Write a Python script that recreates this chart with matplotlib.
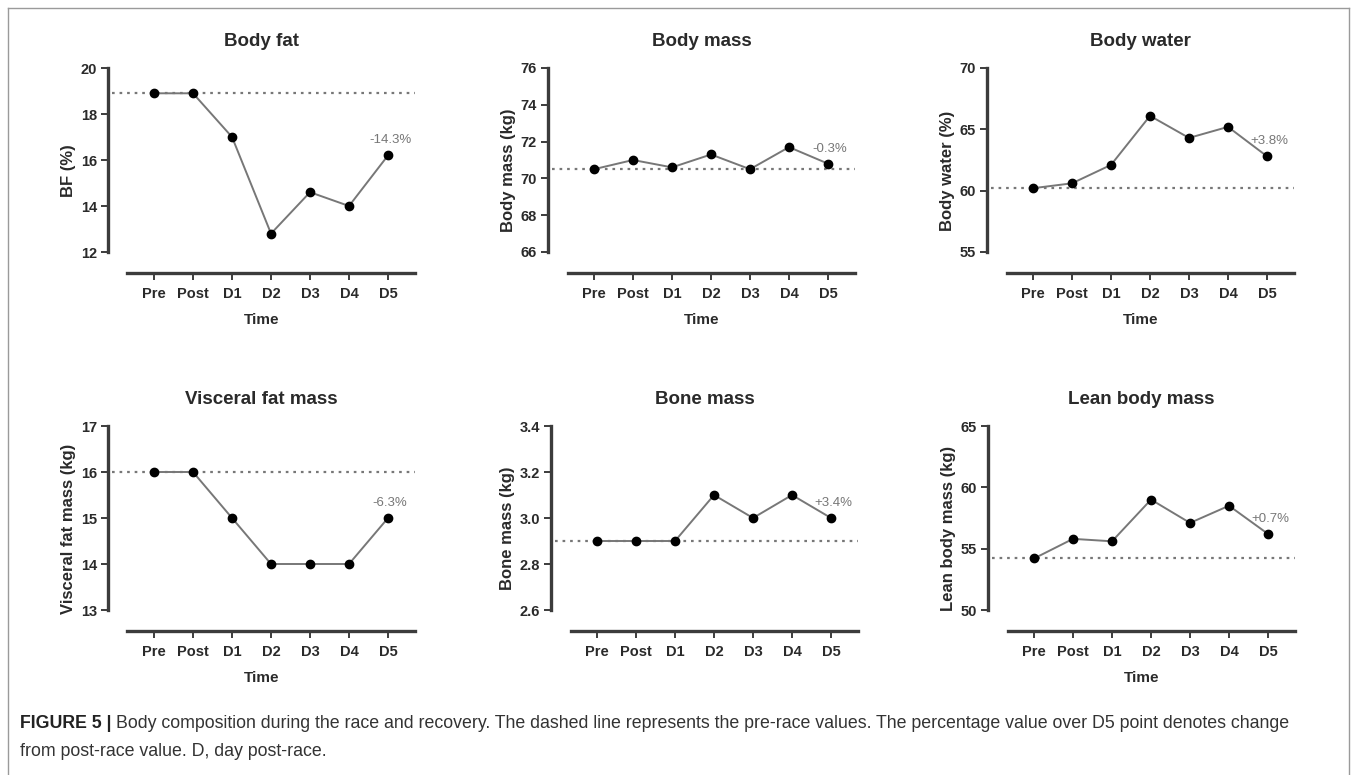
import matplotlib
matplotlib.use('Agg')
import matplotlib.pyplot as plt
from matplotlib import font_manager
from matplotlib.lines import Line2D

plt.rcParams['font.family'] = ['Liberation Sans', 'DejaVu Sans']

time_labels = ['Pre', 'Post', 'D1', 'D2', 'D3', 'D4', 'D5']

body_fat = [18.9, 18.9, 17.0, 12.8, 14.6, 14.0, 16.2]
body_mass = [70.5, 71.0, 70.6, 71.3, 70.5, 71.7, 70.8]
body_water = [60.2, 60.6, 62.1, 66.1, 64.3, 65.2, 62.8]
visceral_fat = [16, 16, 15, 14, 14, 14, 15]
bone_mass = [2.9, 2.9, 2.9, 3.1, 3.0, 3.1, 3.0]
lean_mass = [54.2, 55.8, 55.6, 59.0, 57.1, 58.5, 56.2]

titles = ['Body fat', 'Body mass', 'Body water',
          'Visceral fat mass', 'Bone mass', 'Lean body mass']
ylabels = ['BF (%)', 'Body mass (kg)', 'Body water (%)',
           'Visceral fat mass (kg)', 'Bone mass (kg)', 'Lean body mass (kg)']
yticks = [[12, 14, 16, 18, 20], [66, 68, 70, 72, 74, 76], [55, 60, 65, 70],
          [13, 14, 15, 16, 17], [2.6, 2.8, 3.0, 3.2, 3.4], [50, 55, 60, 65]]
ytick_fmt = ['{:.0f}', '{:.0f}', '{:.0f}', '{:.0f}', '{:.1f}', '{:.0f}']
changes = ['-14.3%', '-0.3%', '+3.8%', '-6.3%', '+3.4%', '+0.7%']
show_time = [True, True, True, True, False, True]
series = [body_fat, body_mass, body_water, visceral_fat, bone_mass, lean_mass]

W, H = 1357, 775
fig = plt.figure(figsize=(W / 100, H / 100), dpi=100)

# pixel layout of each panel: left spine x, top tick y, x-axis y
lefts = [108, 548, 987, 108, 551, 988]
tops = [68, 68, 68, 426, 426, 426]
bottoms = [273, 273, 273, 631, 631, 631]
x0, x1, xs = -1.18, 6.7, -0.68
step = 39.0

spine_c = '#3c3c3c'
text_c = '#2a2a2a'

for i in range(6):
    w = (x1 - x0) * step
    ax = fig.add_axes([lefts[i] / W, 1 - bottoms[i] / H, w / W, (bottoms[i] - tops[i]) / H])
    lo, hi = yticks[i][0], yticks[i][-1]
    tick_span = bottoms[i] - 21 - tops[i]
    ax.set_ylim(lo - 21.0 / tick_span * (hi - lo), hi)
    ax.set_xlim(x0, x1)
    x = list(range(len(time_labels)))
    y = series[i]
    ax.axhline(y[0], xmin=0.012, xmax=1, color='#777777', ls=(0, (1.2, 2.2)), lw=1.6, zorder=1)
    ax.plot(x, y, color='#777777', lw=1.4, zorder=2)
    ax.plot(x, y, 'o', color='black', ms=6, zorder=3, clip_on=False)
    ax.annotate(changes[i], (x[-1], y[-1]), xytext=(2, 15), textcoords='offset pixels',
                ha='center', va='center', fontsize=9.5, color='#777777')

    for s in ['top', 'right']:
        ax.spines[s].set_visible(False)
    ax.spines['left'].set_bounds(lo, hi)
    ax.spines['bottom'].set_bounds(xs, x1)
    for s in ['left', 'bottom']:
        ax.spines[s].set_linewidth(2.4)
        ax.spines[s].set_color(spine_c)
    ax.set_yticks(yticks[i])
    ax.set_yticklabels([ytick_fmt[i].format(v) for v in yticks[i]])
    ax.set_xticks(x)
    ax.set_xticklabels(time_labels)
    ax.tick_params(axis='both', direction='out', length=5, width=1.4, color=spine_c,
                   labelsize=10.5, labelcolor=text_c, pad=3)
    ax.tick_params(axis='x', pad=5)
    for lab in ax.get_xticklabels() + ax.get_yticklabels():
        lab.set_fontweight('bold')
    ax.set_title(titles[i], fontsize=13.5, fontweight='bold', color=text_c, pad=16)
    ax.set_ylabel(ylabels[i], fontsize=12, fontweight='bold', color=text_c, labelpad=3)
    if show_time[i]:
        ax.set_xlabel('Time', fontsize=11, fontweight='bold', color=text_c, labelpad=9)

# border of the figure panel
for xy in [((8, 8), (8, H + 5)), ((1349, 1349), (8, H + 5)), ((8, 1349), (8, 8))]:
    fig.add_artist(Line2D([v / W for v in xy[0]], [1 - v / H for v in xy[1]],
                          color='#9a9a9a', lw=1.0))

# caption
names = {f.name for f in font_manager.fontManager.ttflist}
cap_font = 'Liberation Sans Narrow' if 'Liberation Sans Narrow' in names else 'Liberation Sans'
renderer = fig.canvas.get_renderer()
line1 = ('Body composition during the race and recovery. The dashed line represents the '
         'pre-race values. The percentage value over D5 point denotes change')
line2 = 'from post-race value. D, day post-race.'
fs = 12
head = fig.text(20 / W, 1 - 724 / H, 'FIGURE 5 |', fontsize=fs, fontweight='bold',
                family=cap_font, color='#222222', va='center')
hb = head.get_window_extent(renderer)
t1 = fig.text((hb.x1 + 5) / W, 1 - 724 / H, line1, fontsize=fs, family=cap_font,
              color='#333333', va='center')
tb = t1.get_window_extent(renderer)
scale = (1297 - 20) / (tb.x1 - hb.x0)
fs2 = fs * scale
head.set_fontsize(fs2)
hb = head.get_window_extent(renderer)
t1.set_fontsize(fs2)
t1.set_x((hb.x1 + 5) / W)
fig.text(20 / W, 1 - 751 / H, line2, fontsize=fs2, family=cap_font,
         color='#333333', va='center')

fig.savefig('out.png', dpi=100)
